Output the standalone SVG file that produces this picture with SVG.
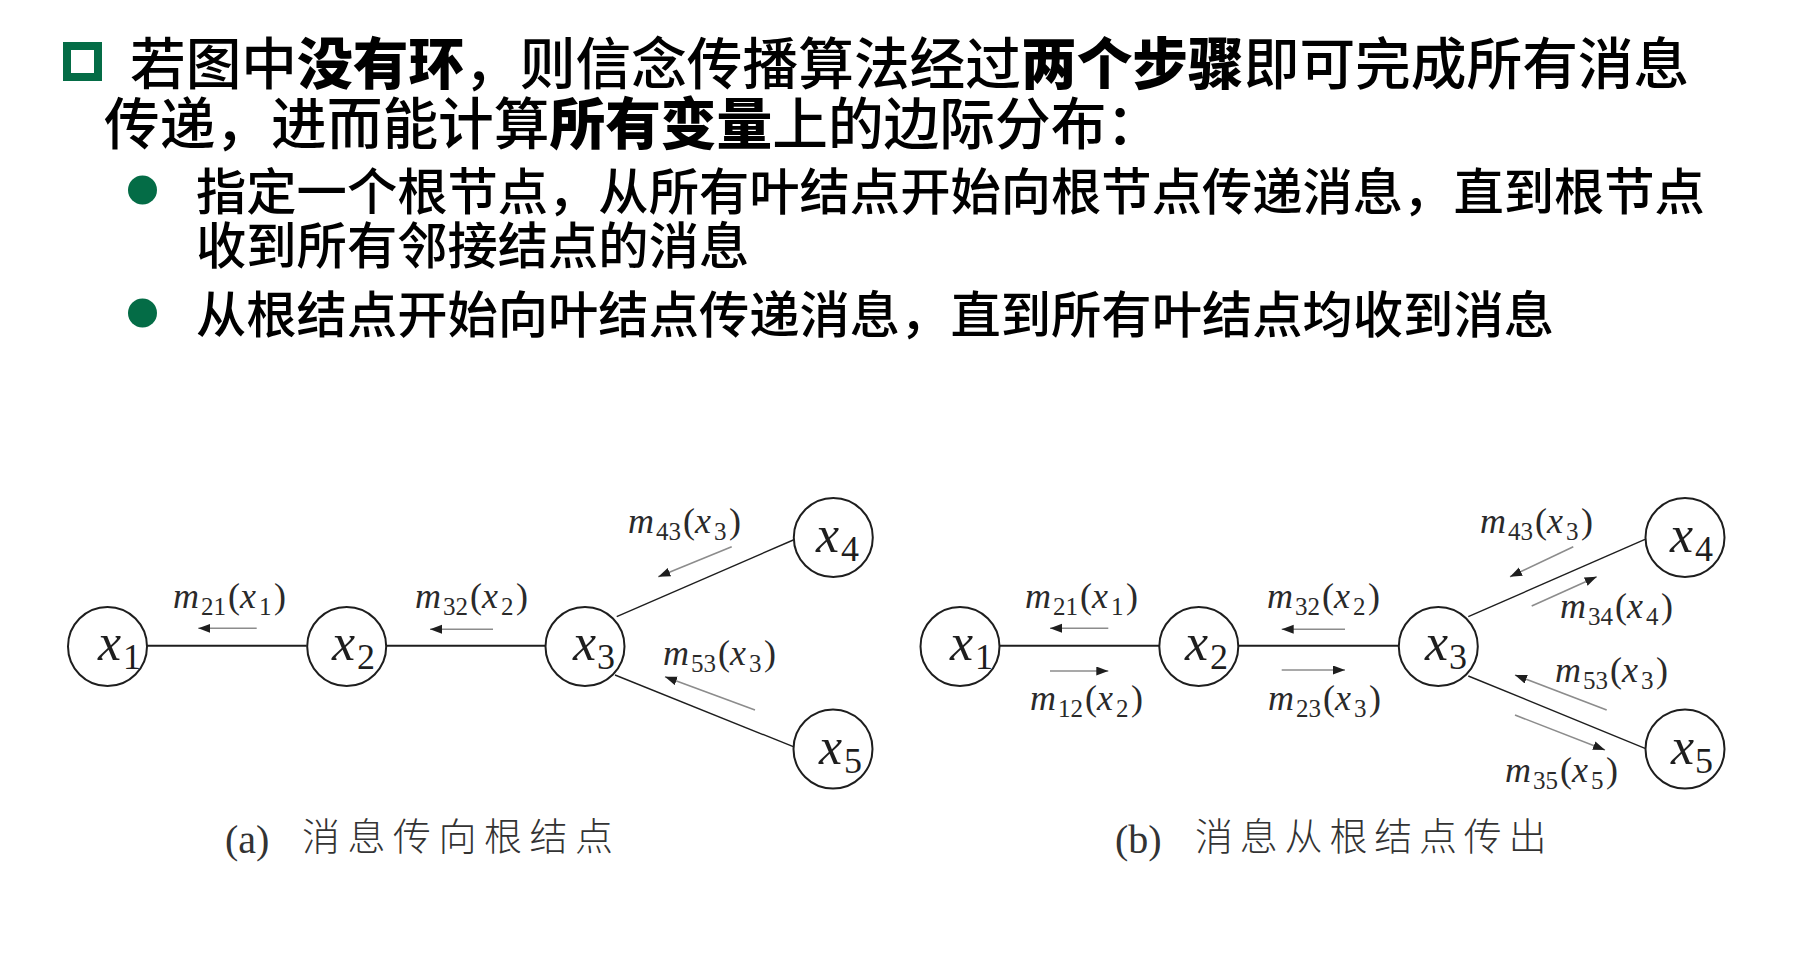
<svg xmlns="http://www.w3.org/2000/svg" width="1800" height="967" viewBox="0 0 1800 967">
<style>
.t{font-family:"Noto Sans CJK SC","Noto Sans",sans-serif;fill:#000;font-weight:500}
.bd{font-weight:900}
.edge{stroke:#1e1e1e;fill:none}
.h{stroke-width:2}
.d{stroke-width:1.4}
.msg{stroke:#8c8c8c;stroke-width:1.6;fill:none;marker-end:url(#ah)}
.nd{fill:#fff;stroke:#1e1e1e;stroke-width:2}
.nl{font-family:"Liberation Serif",serif;font-size:52px;fill:#1e1e1e}
.ns{font-style:normal;font-size:36px}
.ml{font-family:"Liberation Serif",serif;font-size:36px;fill:#2a2a2a}
.i{font-style:italic}
.s{font-size:25px}
.cap{font-family:"Liberation Serif",serif;font-size:40px;fill:#333}
.capz{font-family:"Noto Sans CJK SC",sans-serif;font-size:38px;font-weight:300;fill:#333}
</style>
<defs>
<marker id="ah" markerUnits="userSpaceOnUse" markerWidth="13" markerHeight="10" refX="12" refY="4.5" orient="auto">
<path d="M0,0 L12,4.5 L0,9 z" fill="#1e1e1e"/>
</marker>
</defs>
<rect width="1800" height="967" fill="#fff"/>

<g id="title">
<rect x="67" y="46" width="31" height="31" fill="none" stroke="#046c46" stroke-width="8"/>
<text class="t" x="130" y="84" font-size="55.7">若图中<tspan class="bd">没有环</tspan>，则信念传播算法经过<tspan class="bd">两个步骤</tspan>即可完成所有消息</text>
<text class="t" x="104" y="143.5" font-size="55.7">传递，进而能计算<tspan class="bd">所有变量</tspan>上的边际分布：</text>
</g>

<g id="bullets">
<circle cx="142.5" cy="190" r="14.5" fill="#046c46"/>
<text class="t" x="196" y="210" font-size="50.3">指定一个根节点，从所有叶结点开始向根节点传递消息，直到根节点</text>
<text class="t" x="196" y="264" font-size="50.3">收到所有邻接结点的消息</text>
<circle cx="142.5" cy="313" r="14.5" fill="#046c46"/>
<text class="t" x="196" y="333" font-size="50.3">从根结点开始向叶结点传递消息，直到所有叶结点均收到消息</text>
</g>

<g id="connectors">
<line class="edge h" x1="146.7" y1="645.7" x2="306.7" y2="645.7"/>
<line class="edge h" x1="386.7" y1="645.7" x2="545" y2="645.7"/>
<line class="edge d" x1="616.7" y1="616.7" x2="793.3" y2="540"/>
<line class="edge d" x1="615" y1="675" x2="793.3" y2="746.7"/>
<line class="edge h" x1="999.3" y1="645.7" x2="1159.3" y2="645.7"/>
<line class="edge h" x1="1238.3" y1="645.7" x2="1398.3" y2="645.7"/>
<line class="edge d" x1="1468.3" y1="616.7" x2="1645" y2="539.3"/>
<line class="edge d" x1="1468.3" y1="676" x2="1645" y2="748.3"/>

<line class="msg" x1="256.7" y1="628.3" x2="198.3" y2="628.3"/>
<line class="msg" x1="493" y1="629.3" x2="430" y2="629.3"/>
<line class="msg" x1="731.7" y1="546.7" x2="658.3" y2="576.7"/>
<line class="msg" x1="755" y1="710" x2="665" y2="676.7"/>

<line class="msg" x1="1108.3" y1="628.3" x2="1050" y2="628.3"/>
<line class="msg" x1="1050" y1="671" x2="1108.3" y2="671"/>
<line class="msg" x1="1345" y1="629.3" x2="1281.7" y2="629.3"/>
<line class="msg" x1="1281.7" y1="670" x2="1345" y2="670"/>
<line class="msg" x1="1573.3" y1="546.7" x2="1510" y2="576.7"/>
<line class="msg" x1="1531.7" y1="606" x2="1596.7" y2="576.7"/>
<line class="msg" x1="1606.7" y1="710" x2="1515" y2="675"/>
<line class="msg" x1="1515" y1="715" x2="1605" y2="750"/>
</g>

<g id="msg-labels">
<text class="ml" x="173" y="608"><tspan class="i">m</tspan><tspan class="s" x="201" dy="7">21</tspan><tspan x="228" dy="-7">(</tspan><tspan class="i" x="240">x</tspan><tspan class="s" x="259" dy="7">1</tspan><tspan x="274" dy="-7">)</tspan></text>
<text class="ml" x="415" y="608"><tspan class="i">m</tspan><tspan class="s" x="443" dy="7">32</tspan><tspan x="470" dy="-7">(</tspan><tspan class="i" x="482">x</tspan><tspan class="s" x="501" dy="7">2</tspan><tspan x="516" dy="-7">)</tspan></text>
<text class="ml" x="628" y="533"><tspan class="i">m</tspan><tspan class="s" x="656" dy="7">43</tspan><tspan x="683" dy="-7">(</tspan><tspan class="i" x="695">x</tspan><tspan class="s" x="714" dy="7">3</tspan><tspan x="729" dy="-7">)</tspan></text>
<text class="ml" x="663" y="665"><tspan class="i">m</tspan><tspan class="s" x="691" dy="7">53</tspan><tspan x="718" dy="-7">(</tspan><tspan class="i" x="730">x</tspan><tspan class="s" x="749" dy="7">3</tspan><tspan x="764" dy="-7">)</tspan></text>

<text class="ml" x="1025" y="608"><tspan class="i">m</tspan><tspan class="s" x="1053" dy="7">21</tspan><tspan x="1080" dy="-7">(</tspan><tspan class="i" x="1092">x</tspan><tspan class="s" x="1111" dy="7">1</tspan><tspan x="1126" dy="-7">)</tspan></text>
<text class="ml" x="1030" y="710"><tspan class="i">m</tspan><tspan class="s" x="1058" dy="7">12</tspan><tspan x="1085" dy="-7">(</tspan><tspan class="i" x="1097">x</tspan><tspan class="s" x="1116" dy="7">2</tspan><tspan x="1131" dy="-7">)</tspan></text>
<text class="ml" x="1267" y="608"><tspan class="i">m</tspan><tspan class="s" x="1295" dy="7">32</tspan><tspan x="1322" dy="-7">(</tspan><tspan class="i" x="1334">x</tspan><tspan class="s" x="1353" dy="7">2</tspan><tspan x="1368" dy="-7">)</tspan></text>
<text class="ml" x="1268" y="710"><tspan class="i">m</tspan><tspan class="s" x="1296" dy="7">23</tspan><tspan x="1323" dy="-7">(</tspan><tspan class="i" x="1335">x</tspan><tspan class="s" x="1354" dy="7">3</tspan><tspan x="1369" dy="-7">)</tspan></text>
<text class="ml" x="1480" y="533"><tspan class="i">m</tspan><tspan class="s" x="1508" dy="7">43</tspan><tspan x="1535" dy="-7">(</tspan><tspan class="i" x="1547">x</tspan><tspan class="s" x="1566" dy="7">3</tspan><tspan x="1581" dy="-7">)</tspan></text>
<text class="ml" x="1560" y="618"><tspan class="i">m</tspan><tspan class="s" x="1588" dy="7">34</tspan><tspan x="1615" dy="-7">(</tspan><tspan class="i" x="1627">x</tspan><tspan class="s" x="1646" dy="7">4</tspan><tspan x="1661" dy="-7">)</tspan></text>
<text class="ml" x="1555" y="682"><tspan class="i">m</tspan><tspan class="s" x="1583" dy="7">53</tspan><tspan x="1610" dy="-7">(</tspan><tspan class="i" x="1622">x</tspan><tspan class="s" x="1641" dy="7">3</tspan><tspan x="1656" dy="-7">)</tspan></text>
<text class="ml" x="1505" y="782"><tspan class="i">m</tspan><tspan class="s" x="1533" dy="7">35</tspan><tspan x="1560" dy="-7">(</tspan><tspan class="i" x="1572">x</tspan><tspan class="s" x="1591" dy="7">5</tspan><tspan x="1606" dy="-7">)</tspan></text>
</g>

<g id="a-x1"><circle class="nd" cx="107.5" cy="646.5" r="39.5"/><text class="nl" x="98" y="660"><tspan class="i">x</tspan><tspan class="ns" x="123" dy="9">1</tspan></text></g>
<g id="a-x2"><circle class="nd" cx="346.7" cy="646.5" r="39.5"/><text class="nl" x="332" y="660"><tspan class="i">x</tspan><tspan class="ns" x="357" dy="9">2</tspan></text></g>
<g id="a-x3"><circle class="nd" cx="585" cy="646.5" r="39.5"/><text class="nl" x="573" y="660"><tspan class="i">x</tspan><tspan class="ns" x="597" dy="9">3</tspan></text></g>
<g id="a-x4"><circle class="nd" cx="833.3" cy="537.5" r="39.5"/><text class="nl" x="816" y="552"><tspan class="i">x</tspan><tspan class="ns" x="841" dy="9">4</tspan></text></g>
<g id="a-x5"><circle class="nd" cx="833" cy="749" r="39.5"/><text class="nl" x="819" y="763.5"><tspan class="i">x</tspan><tspan class="ns" x="844" dy="9">5</tspan></text></g>

<g id="b-x1"><circle class="nd" cx="960" cy="646.5" r="39.5"/><text class="nl" x="950" y="660"><tspan class="i">x</tspan><tspan class="ns" x="975" dy="9">1</tspan></text></g>
<g id="b-x2"><circle class="nd" cx="1198.8" cy="646.5" r="39.5"/><text class="nl" x="1185" y="660"><tspan class="i">x</tspan><tspan class="ns" x="1210" dy="9">2</tspan></text></g>
<g id="b-x3"><circle class="nd" cx="1438.3" cy="646.5" r="39.5"/><text class="nl" x="1425" y="660"><tspan class="i">x</tspan><tspan class="ns" x="1449" dy="9">3</tspan></text></g>
<g id="b-x4"><circle class="nd" cx="1685" cy="537.5" r="39.5"/><text class="nl" x="1670" y="552"><tspan class="i">x</tspan><tspan class="ns" x="1695" dy="9">4</tspan></text></g>
<g id="b-x5"><circle class="nd" cx="1685" cy="749" r="39.5"/><text class="nl" x="1671" y="764"><tspan class="i">x</tspan><tspan class="ns" x="1695" dy="9">5</tspan></text></g>

<g id="captions">
<text class="cap" x="225" y="853">(a)</text>
<text class="capz" x="302" y="850" letter-spacing="7.5">消息传向根结点</text>
<text class="cap" x="1115" y="853">(b)</text>
<text class="capz" x="1195" y="850" letter-spacing="6.8">消息从根结点传出</text>
</g>
</svg>
